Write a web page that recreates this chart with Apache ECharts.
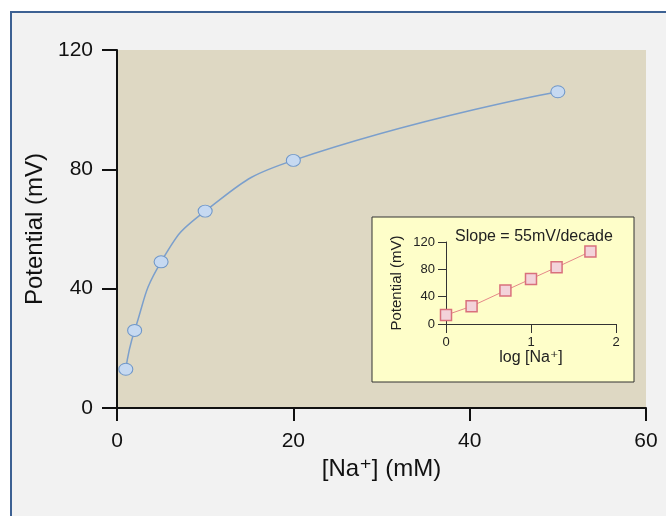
<!DOCTYPE html>
<html>
<head>
<meta charset="utf-8">
<script src="https://cdn.jsdelivr.net/npm/echarts@6/dist/echarts.min.js"></script>
<style>
  html, body { margin: 0; padding: 0; background: #fff; }
  #frame {
    position: absolute; left: 10px; top: 11px; width: 700px; height: 600px;
    background: #f2f2f2; border: 2px solid #3d6193;
  }
  #chart { position: absolute; left: 0; top: 0; width: 666px; height: 516px; }
</style>
</head>
<body>
<div id="frame"></div>
<div id="chart"></div>
<script>
// sodium concentration (mM) and measured potential (mV)
var conc = [1, 2, 5, 10, 20, 50];
var potential = [13, 26, 49, 66, 83, 106];
// inset: log10 of concentration
var logConc = [0, 0.301, 0.699, 1, 1.301, 1.699];
var xTicks = [0, 20, 40, 60];
var yTicks = [0, 40, 80, 120];
var slopeText = 'Slope = 55mV/decade';

var font = "'Liberation Sans', Arial, 'DejaVu Sans', sans-serif";

var mainPts = conc.map(function (c, i) { return [c, potential[i]]; });
var insetPts = logConc.map(function (c, i) { return [c, potential[i]]; });

var chart = echarts.init(document.getElementById('chart'), null, { renderer: 'canvas' });
chart.setOption({
  backgroundColor: 'transparent',
  animation: false,
  textStyle: { fontFamily: font },
  grid: [
    { left: 117, right: 20, top: 50, bottom: 108, show: true, backgroundColor: '#ded8c3', borderWidth: 0 },
    { left: 446, right: 50, top: 242, bottom: 192 }
  ],
  xAxis: [
    {
      gridIndex: 0, type: 'value', min: 0, max: 60, interval: 20,
      name: '[Na\u207A] (mM)', nameLocation: 'middle', nameGap: 48,
      nameTextStyle: { fontSize: 24, color: '#111', fontFamily: font },
      axisLine: { onZero: false, lineStyle: { color: '#111', width: 2 } },
      axisTick: { length: 13, lineStyle: { color: '#111', width: 2 } },
      axisLabel: { margin: 23, fontSize: 21, color: '#111' },
      splitLine: { show: false }
    },
    {
      gridIndex: 1, type: 'value', min: 0, max: 2, interval: 1, z: 5,
      name: 'log [Na\u207A]', nameLocation: 'middle', nameGap: 26,
      nameTextStyle: { fontSize: 16, color: '#222', fontFamily: font },
      axisLine: { onZero: false, lineStyle: { color: '#333', width: 1 } },
      axisTick: { length: 9, lineStyle: { color: '#333', width: 1 } },
      axisLabel: { margin: 12, fontSize: 13, color: '#222' },
      splitLine: { show: false }
    }
  ],
  yAxis: [
    {
      gridIndex: 0, type: 'value', min: 0, max: 120, interval: 40,
      name: 'Potential (mV)', nameLocation: 'middle', nameGap: 66,
      nameTextStyle: { fontSize: 24, color: '#111', fontFamily: font },
      axisLine: { onZero: false, lineStyle: { color: '#111', width: 2 } },
      axisTick: { length: 15, lineStyle: { color: '#111', width: 2 } },
      axisLabel: { margin: 24, fontSize: 21, color: '#111' },
      splitLine: { show: false }
    },
    {
      gridIndex: 1, type: 'value', min: 0, max: 120, interval: 40, z: 5,
      name: 'Potential (mV)', nameLocation: 'middle', nameGap: 42,
      nameTextStyle: { fontSize: 15, color: '#222', fontFamily: font },
      axisLine: { onZero: false, lineStyle: { color: '#333', width: 1 } },
      axisTick: { length: 8, lineStyle: { color: '#333', width: 1 } },
      axisLabel: { margin: 11, fontSize: 13, color: '#222' },
      splitLine: { show: false }
    }
  ],
  graphic: [
    {
      type: 'rect', z: 1,
      shape: { x: 372, y: 217, width: 262, height: 165 },
      style: { fill: '#fefec9', stroke: '#333', lineWidth: 1 }
    },
    {
      type: 'text', z: 10, x: 455, y: 237,
      style: { text: slopeText, font: '16px ' + font, fill: '#222', textVerticalAlign: 'middle' }
    }
  ],
  series: [
    {
      type: 'line', xAxisIndex: 0, yAxisIndex: 0, data: mainPts,
      smooth: 0.5, symbol: 'circle', symbolSize: [14, 12],
      lineStyle: { color: '#7b9fcc', width: 1.5 },
      itemStyle: { color: '#c6d9f1', borderColor: '#6f97c9', borderWidth: 1 }
    },
    {
      type: 'line', xAxisIndex: 1, yAxisIndex: 1, data: insetPts, z: 6,
      symbol: 'rect', symbolSize: 11,
      lineStyle: { color: '#e58888', width: 1 },
      itemStyle: { color: '#f3d3da', borderColor: '#d9707c', borderWidth: 1.5 }
    }
  ]
});
</script>
</body>
</html>
